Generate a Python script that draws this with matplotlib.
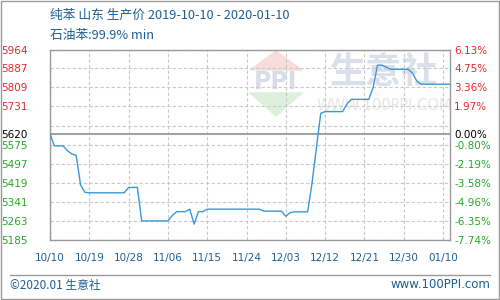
import matplotlib.pyplot as plt
import pandas as pd
from matplotlib.patches import Polygon

# daily price, 2019-10-10 onwards
prices = [
    5620, 5570, 5570, 5570, 5550, 5537, 5531, 5410, 5380, 5378,
    5378, 5378, 5378, 5378, 5378, 5378, 5378, 5378, 5400, 5400,
    5400, 5263, 5263, 5263, 5263, 5263, 5263, 5263, 5285, 5301,
    5301, 5301, 5311, 5250, 5301, 5301, 5311, 5311, 5311, 5311,
    5311, 5311, 5311, 5311, 5311, 5311, 5311, 5311, 5311, 5303,
    5303, 5303, 5303, 5303, 5282, 5297, 5300, 5300, 5300, 5300,
    5417, 5561, 5703, 5710, 5710, 5710, 5710, 5710, 5741, 5760,
    5760, 5760, 5760, 5760, 5809, 5900, 5900, 5892, 5883, 5883,
    5883, 5883, 5883, 5868, 5835, 5822, 5822, 5822, 5822, 5822,
    5822, 5822, 5822,
]
days = list(range(len(prices)))
base_price = 5620

grid_values = [5964, 5887, 5809, 5731, 5653, 5620, 5575, 5497, 5419, 5341, 5263, 5185]
left_labels = ["5964", "5887", "5809", "5731", "", "5620", "5575", "5497", "5419",
               "5341", "5263", "5185"]
right_labels = ["6.13%", "4.75%", "3.36%", "1.97%", "", "0.00%", "-0.80%", "-2.19%",
                "-3.58%", "-4.96%", "-6.35%", "-7.74%"]
x_ticks = [0, 9, 18, 27, 36, 45, 54, 63, 72, 81, 90]
x_labels = ["10/10", "10/19", "10/28", "11/06", "11/15", "11/24", "12/03", "12/12",
            "12/21", "12/30", "01/10"]

CJK = ["Noto Sans CJK SC", "DejaVu Sans"]
TEXT_BLUE = "#1d5f94"
RED = "#e8262a"
GREEN = "#27a827"
FRAME = "#999999"

fig = plt.figure(figsize=(5, 3), dpi=100)
ax = fig.add_axes([0.1, 0.2, 0.8, 0.635])


def px(x, y):
    # pixel position -> figure fraction
    return x / 500, 1 - y / 300


# watermark (logo + site name)
ax.add_patch(Polygon([px(276, 51), px(250, 70), px(302, 70)], closed=True,
                     transform=fig.transFigure, color="#f9dcdc", zorder=0.5))
ax.add_patch(Polygon([px(250, 93), px(302, 93), px(276, 116)], closed=True,
                     transform=fig.transFigure, color="#dcf0dc", zorder=0.5))
ax.text(*px(276, 82), "PPI", transform=fig.transFigure, ha="center", va="center",
        fontsize=17, fontweight="bold", color="#d6dde9", zorder=0.6)
ax.text(*px(384, 72), "生意社", transform=fig.transFigure, ha="center", va="center",
        fontsize=26, fontweight="bold", family=CJK, color="#dcdfea", zorder=0.6)
ax.text(*px(384, 105), "WWW.100PPI.COM", transform=fig.transFigure, ha="center",
        va="center", fontsize=10.5, color="#e6e6e6", zorder=0.6)

ax.plot(days, prices, color="#3a98d6", lw=1.0, zorder=3)
ax.axhline(base_price, color=FRAME, lw=1.3, zorder=2)

ax.set_xlim(0, 91.6)
ax.set_ylim(5185, 5964)
ax.set_yticks(grid_values)
ax.set_yticklabels(left_labels)
ax.set_xticks(x_ticks)
ax.set_xticklabels(x_labels)
ax.tick_params(axis="y", length=0, pad=16, labelsize=7.5)
ax.tick_params(axis="x", length=0, pad=9, labelsize=7.5, labelcolor=TEXT_BLUE)
for lbl, val in zip(ax.get_yticklabels(), grid_values):
    lbl.set_color(RED if val > base_price else (GREEN if val < base_price else "black"))

ax.grid(True, color="#c8c8c8", lw=0.8, ls=(0, (3, 2)))
for g in ax.get_ygridlines():
    if abs(g.get_ydata()[0] - base_price) < 1:
        g.set_visible(False)
for s in ax.spines.values():
    s.set_color(FRAME)
    s.set_linewidth(1.0)

ax2 = ax.twinx()
ax2.set_ylim(ax.get_ylim())
ax2.set_yticks(grid_values)
ax2.set_yticklabels(right_labels)
ax2.tick_params(axis="y", length=0, pad=3, labelsize=7.5)
for lbl, val in zip(ax2.get_yticklabels(), grid_values):
    lbl.set_color(RED if val > base_price else (GREEN if val < base_price else "black"))
for s in ax2.spines.values():
    s.set_visible(False)

fig.text(0.1, 0.95, "纯苯 山东 生产价 2019-10-10 - 2020-01-10", family=CJK,
         fontsize=9.2, color=TEXT_BLUE, va="center")
fig.text(0.1, 0.883, "石油苯:99.9% min", family=CJK, fontsize=9.2, color=TEXT_BLUE,
         va="center")

fig.add_artist(plt.Line2D([0.02, 0.98], [1 - 275 / 300] * 2, color=FRAME, lw=1.0))
fig.text(0.02, 1 - 285 / 300, "©2020.01 生意社", family=CJK, fontsize=8.5,
         color=TEXT_BLUE, va="center")
fig.text(0.98, 1 - 285 / 300, "www.100PPI.com", fontsize=8.5, color=TEXT_BLUE,
         va="center", ha="right")
fig.add_artist(plt.Rectangle((0.001, 0.002), 0.997, 0.996, fill=False,
                             edgecolor=FRAME, lw=1.0, transform=fig.transFigure))

fig.savefig("out.png", dpi=100)
